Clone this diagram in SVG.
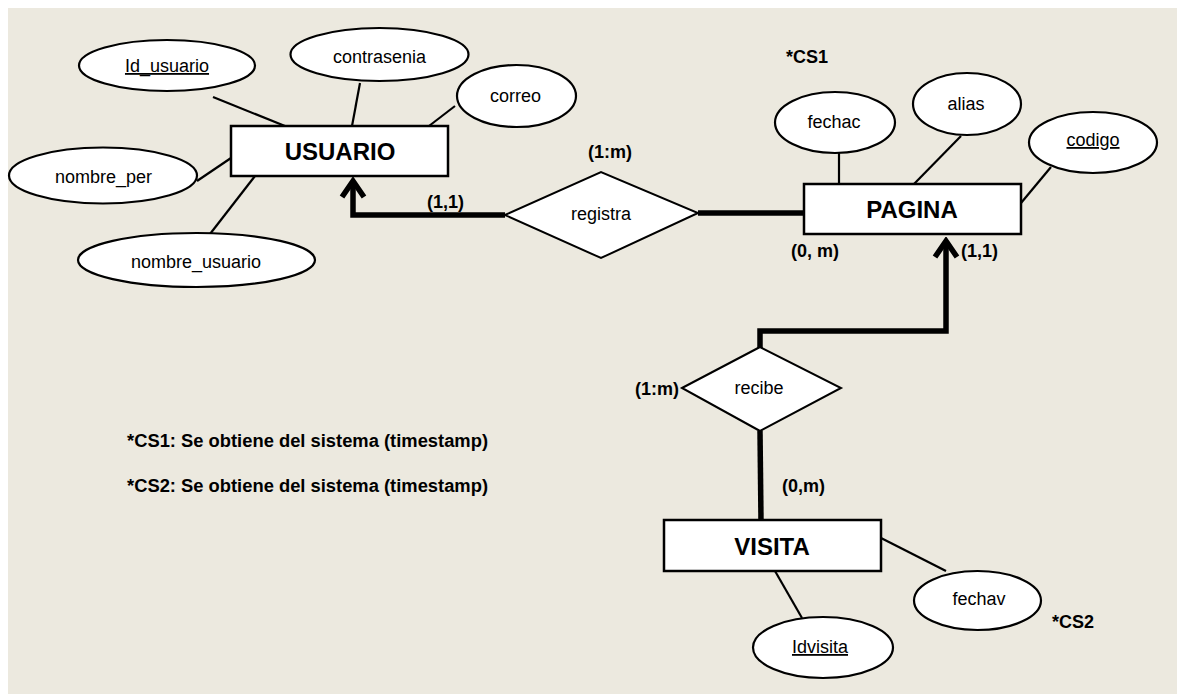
<svg xmlns="http://www.w3.org/2000/svg" width="1177" height="694" viewBox="0 0 1177 694">
<style>
.attr{fill:#fff;stroke:#000;stroke-width:2.2}
.ent{fill:#fff;stroke:#000;stroke-width:2.5}
.rel{fill:#fff;stroke:#000;stroke-width:2}
.al{stroke:#000;stroke-width:2.2;fill:none}
.thick{stroke:#000;stroke-width:5.5;fill:none;stroke-linejoin:miter}
text{font-family:"Liberation Sans",Arial,sans-serif;fill:#000}
.at{font-size:18px;text-anchor:middle}
.et{font-size:24px;font-weight:bold;text-anchor:middle}
.rt{font-size:18px;text-anchor:middle}
.ct{font-size:18px;font-weight:bold}
.u{text-decoration:underline}
</style>
<defs>
<marker id="chev" markerUnits="userSpaceOnUse" viewBox="-20 -15 24 30" markerWidth="24" markerHeight="30" refX="0" refY="0" orient="auto">
<path d="M -16 -11 L 0 0 L -16 11" fill="none" stroke="#000" stroke-width="5.5" stroke-linejoin="miter"/>
</marker>
</defs>
<rect x="8" y="8" width="1169" height="686" fill="#ECE9DF"/>

<g id="connectors">
<line class="al" x1="213" y1="97" x2="285" y2="126"/>
<line class="al" x1="360" y1="83" x2="352" y2="126"/>
<line class="al" x1="455" y1="106" x2="429" y2="126"/>
<line class="al" x1="197" y1="181" x2="231" y2="158"/>
<line class="al" x1="255" y1="176" x2="210" y2="234"/>
<line class="al" x1="839" y1="153" x2="839" y2="184"/>
<line class="al" x1="961" y1="136" x2="914" y2="184"/>
<line class="al" x1="1051" y1="167" x2="1021" y2="203"/>
<line class="al" x1="881" y1="538" x2="946" y2="571"/>
<line class="al" x1="775" y1="571" x2="802" y2="618"/>
<path class="thick" d="M 505 215 L 353 215 L 353 181" marker-end="url(#chev)"/>
<path class="thick" d="M 698 213 L 804 213"/>
<path class="thick" d="M 760 348 L 760 331 L 946 331 L 946 241" marker-end="url(#chev)"/>
<path class="thick" d="M 760 431 L 761 520"/>
</g>

<g id="id_usuario"><ellipse class="attr" cx="167" cy="65.5" rx="88" ry="25.5"/><text class="at u" x="167" y="72">Id_usuario</text></g>
<g id="contrasenia"><ellipse class="attr" cx="379.5" cy="54.5" rx="89" ry="26.5"/><text class="at" x="379.5" y="63">contrasenia</text></g>
<g id="correo"><ellipse class="attr" cx="516.5" cy="96" rx="59.5" ry="31"/><text class="at" x="515.5" y="102">correo</text></g>
<g id="nombre_per"><ellipse class="attr" cx="103" cy="175.5" rx="94" ry="28"/><text class="at" x="103.5" y="183">nombre_per</text></g>
<g id="nombre_usuario"><ellipse class="attr" cx="196.5" cy="260" rx="118.5" ry="27"/><text class="at" x="196" y="268">nombre_usuario</text></g>

<g id="usuario"><rect class="ent" x="231" y="126" width="217" height="50"/><text class="et" x="340" y="160">USUARIO</text></g>

<g id="registra"><polygon class="rel" points="505,215 601,172 698,213 601,258"/><text class="rt" x="601" y="220">registra</text></g>

<g id="fechac"><ellipse class="attr" cx="835" cy="122.5" rx="60" ry="30.5"/><text class="at" x="834" y="128">fechac</text></g>
<g id="alias"><ellipse class="attr" cx="967" cy="104" rx="54" ry="31"/><text class="at" x="966" y="110">alias</text></g>
<g id="codigo"><ellipse class="attr" cx="1093" cy="142.5" rx="64" ry="30.5"/><text class="at u" x="1093" y="146">codigo</text></g>

<g id="pagina"><rect class="ent" x="804" y="184" width="217" height="50"/><text class="et" x="912" y="218">PAGINA</text></g>

<g id="recibe"><polygon class="rel" points="682,388 760,347 841,388 760,431"/><text class="rt" x="759" y="394">recibe</text></g>

<g id="visita"><rect class="ent" x="664" y="520" width="217" height="51"/><text class="et" x="772" y="555">VISITA</text></g>
<g id="fechav"><ellipse class="attr" cx="977.5" cy="600.5" rx="63.5" ry="29.5"/><text class="at" x="979" y="605">fechav</text></g>
<g id="idvisita"><ellipse class="attr" cx="823" cy="647.5" rx="70" ry="30.5"/><text class="at u" x="820" y="653">Idvisita</text></g>

<g id="labels">
<text class="ct" x="786" y="63">*CS1</text>
<text class="ct" x="588" y="158">(1:m)</text>
<text class="ct" x="427" y="208">(1,1)</text>
<text class="ct" x="791" y="257">(0, m)</text>
<text class="ct" x="961" y="257">(1,1)</text>
<text class="ct" x="635" y="395">(1:m)</text>
<text class="ct" x="782" y="492">(0,m)</text>
<text class="ct" x="1052" y="628">*CS2</text>
<text class="ct" x="127" y="447" textLength="361" lengthAdjust="spacingAndGlyphs">*CS1: Se obtiene del sistema (timestamp)</text>
<text class="ct" x="127" y="492" textLength="361" lengthAdjust="spacingAndGlyphs">*CS2: Se obtiene del sistema (timestamp)</text>
</g>
</svg>
